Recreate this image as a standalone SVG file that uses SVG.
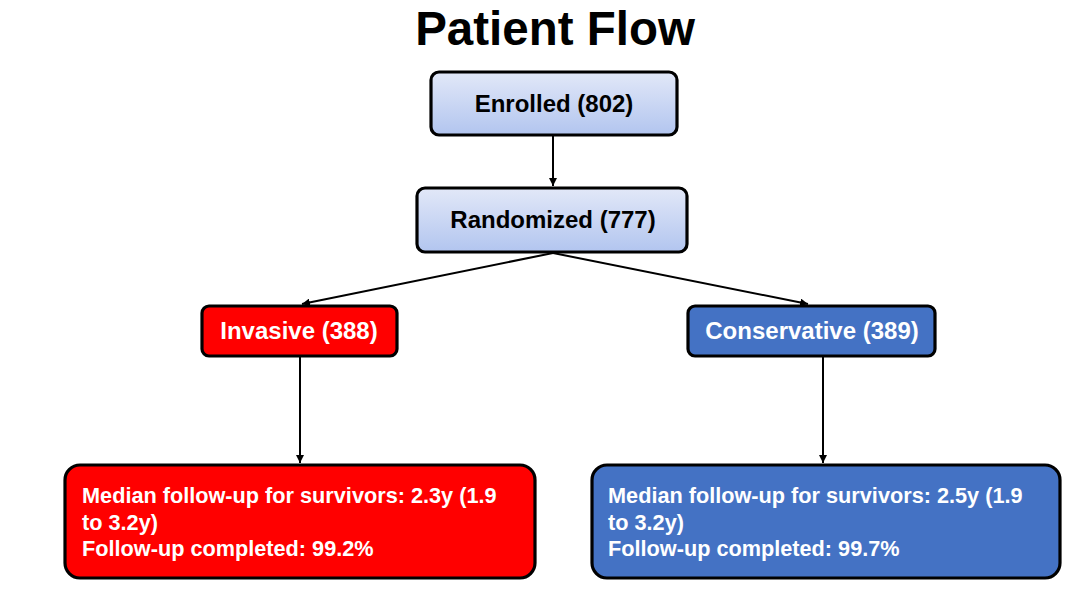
<svg xmlns="http://www.w3.org/2000/svg" width="1080" height="590" viewBox="0 0 1080 590">
<style>
text{font-family:"Liberation Sans",Arial,sans-serif;font-weight:bold}
.title{font-size:47.5px;fill:#000}
.lbl{font-size:24px;text-anchor:middle}
.dark{fill:#000}
.white{fill:#fff}
.small{font-size:21.7px;fill:#fff}
.box{stroke:#000;stroke-width:3.2}
.conn{stroke:#000;stroke-width:2;fill:none;marker-end:url(#ah)}
</style>
<defs>
<linearGradient id="g" x1="0" y1="0" x2="0" y2="1">
<stop offset="0" stop-color="#e2e8f8"/>
<stop offset="1" stop-color="#b2c5ef"/>
</linearGradient>
<marker id="ah" viewBox="0 0 10 10" refX="10" refY="5" markerWidth="4" markerHeight="4" orient="auto" markerUnits="strokeWidth">
<path d="M0,0 L10,5 L0,10 z" fill="#000"/>
</marker>
</defs>
<rect width="1080" height="590" fill="#fff"/>
<text class="title" x="555" y="45" text-anchor="middle">Patient Flow</text>
<g id="connectors">
<line class="conn" x1="553" y1="136" x2="553" y2="186"/>
<line class="conn" x1="553" y1="253" x2="302" y2="304"/>
<line class="conn" x1="553" y1="253" x2="808" y2="304"/>
<line class="conn" x1="300" y1="357" x2="300" y2="463"/>
<line class="conn" x1="823" y1="357" x2="823" y2="463"/>
</g>
<g id="enrolled">
<rect class="box" x="431" y="72" width="246" height="63" rx="8" fill="url(#g)"/>
<text class="lbl dark" x="554" y="112">Enrolled (802)</text>
</g>
<g id="randomized">
<rect class="box" x="417" y="188" width="270" height="64" rx="8" fill="url(#g)"/>
<text class="lbl dark" x="553" y="228">Randomized (777)</text>
</g>
<g id="invasive">
<rect class="box" x="202" y="306" width="195" height="50" rx="7" fill="#ff0000"/>
<text class="lbl white" x="299" y="339">Invasive (388)</text>
</g>
<g id="conservative">
<rect class="box" x="688" y="306" width="247" height="50" rx="7" fill="#4472c4"/>
<text class="lbl white" x="812" y="339">Conservative (389)</text>
</g>
<g id="invasive-followup">
<rect class="box" x="65" y="465" width="470" height="113" rx="15" fill="#ff0000"/>
<text class="small" x="82" y="503">Median follow-up for survivors: 2.3y (1.9</text>
<text class="small" x="82" y="530">to 3.2y)</text>
<text class="small" x="82" y="556">Follow-up completed: 99.2%</text>
</g>
<g id="conservative-followup">
<rect class="box" x="592" y="465" width="468" height="113" rx="15" fill="#4472c4"/>
<text class="small" x="608" y="503">Median follow-up for survivors: 2.5y (1.9</text>
<text class="small" x="608" y="530">to 3.2y)</text>
<text class="small" x="608" y="556">Follow-up completed: 99.7%</text>
</g>
</svg>
